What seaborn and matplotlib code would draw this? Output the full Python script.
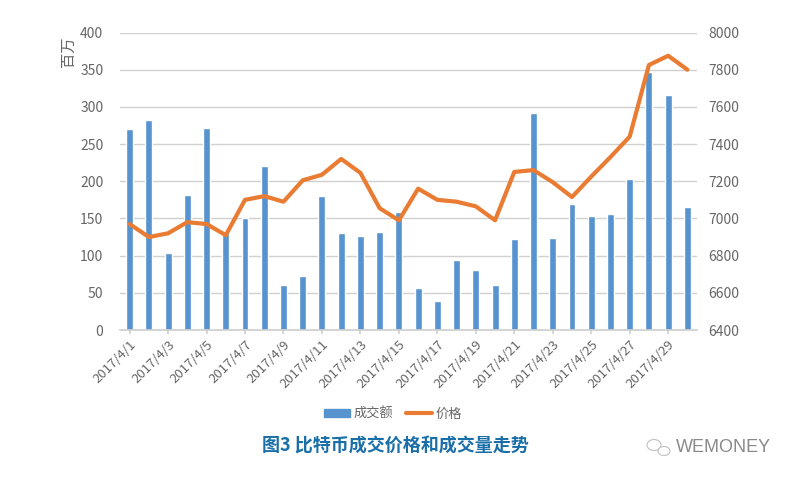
import matplotlib
matplotlib.use('Agg')
import matplotlib.pyplot as plt
from matplotlib.lines import Line2D
from matplotlib.patches import Ellipse, Patch
import pandas as pd
import seaborn as sns

days = [f'2017/4/{d}' for d in range(1, 31)]
volume = [270, 283, 103, 181, 271, 130, 150, 221, 60, 73,
          180, 131, 126, 132, 158, 57, 39, 94, 81, 60,
          123, 292, 124, 170, 153, 156, 203, 347, 316, 166]
price = [6970, 6900, 6920, 6980, 6970, 6910, 7100, 7120, 7090, 7205,
         7235, 7320, 7245, 7055, 6990, 7160, 7100, 7090, 7065, 6990,
         7250, 7260, 7195, 7115, 7225, 7330, 7440, 7825, 7875, 7800]
left_ticks = [0, 50, 100, 150, 200, 250, 300, 350, 400]
right_ticks = [6400, 6600, 6800, 7000, 7200, 7400, 7600, 7800, 8000]

sns.set_theme(style='white')
plt.rcParams['font.family'] = ['Noto Sans CJK SC', 'DejaVu Sans']

GREY = '#666666'
BLUE = '#5794cf'
ORANGE = '#e97c32'

df = pd.DataFrame({'day': days, 'volume': volume, 'price': price})

fig = plt.figure(figsize=(7.95, 4.8), dpi=100, facecolor='white')
ax = fig.add_axes([120 / 795, 1 - 330 / 480, 577 / 795, 297.5 / 480])

sns.barplot(data=df, x='day', y='volume', color=BLUE, saturation=1, width=0.36, ax=ax, zorder=2)
ax.set_xlim(-0.5, 29.5)
ax.set_ylim(0, 400)
ax.set_yticks(left_ticks)
ax.yaxis.grid(True, color='#d0d0d0', lw=1)
ax.set_axisbelow(True)
ax.set_xlabel('')
ax.set_ylabel('百万', fontsize=11, color=GREY)
ax.yaxis.set_label_coords(-0.075, 0.935)
ax.set_xticks(range(0, 30, 2))
ax.set_xticklabels(days[::2], rotation=45, ha='right', rotation_mode='anchor')
ax.tick_params(axis='x', labelsize=9.5, labelcolor=GREY, length=3, color='#d0d0d0', pad=3, bottom=True)
ax.tick_params(axis='y', labelsize=10, labelcolor=GREY, length=0, pad=12)
for s in ['top', 'left', 'right']:
    ax.spines[s].set_visible(False)
ax.spines['bottom'].set_color('#d0d0d0')

ax2 = ax.twinx()
sns.lineplot(data=df, x='day', y='price', color=ORANGE, lw=3, ax=ax2, sort=False, zorder=3)
ax2.set_ylim(6400, 8000)
ax2.set_yticks(right_ticks)
ax2.set_ylabel('')
ax2.grid(False)
ax2.tick_params(axis='y', labelsize=10, labelcolor=GREY, length=0, pad=8)
for s in ax2.spines.values():
    s.set_visible(False)

handles = [Patch(color=BLUE), Line2D([0], [0], color=ORANGE, lw=3)]
fig.legend(handles, ['成交额', '价格'], loc='center', bbox_to_anchor=(393 / 795, 1 - 414 / 480), ncol=2,
           frameon=False, fontsize=9.5, labelcolor=GREY, handlelength=2.0, handleheight=0.5,
           handletextpad=0.3, columnspacing=0.9)

fig.text(395 / 795, 1 - 445 / 480, '图3 比特币成交价格和成交量走势', ha='center', va='center',
         fontsize=13, fontweight='bold', color='#1a6fa8')
fig.text(771 / 795, 1 - 448 / 480, 'WEMONEY', ha='right', va='center', fontsize=13, color='#8a8a8a',
         family=['Liberation Sans', 'DejaVu Sans'])

# wechat style mark next to the watermark
for cx, cy, w, h in [(654, 445, 14, 11), (664, 451, 12, 9)]:
    fig.add_artist(Ellipse((cx / 795, 1 - cy / 480), w / 795, h / 480, transform=fig.transFigure,
                           facecolor='white', edgecolor='#c0c0c0', lw=0.8))

fig.savefig('out.png', dpi=100)
